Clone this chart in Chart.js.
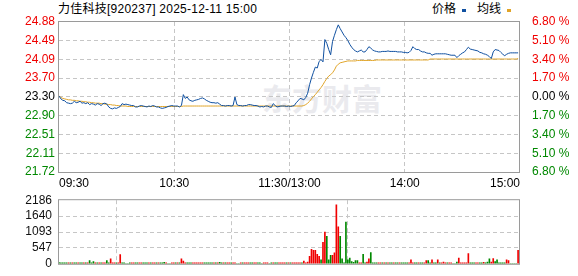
<!DOCTYPE html>
<html>
<head>
<meta charset="utf-8">
<script src="https://cdn.jsdelivr.net/npm/chart.js@4.4.1/dist/chart.umd.min.js"></script>
<style>
    body { margin: 0; background: #fff; }
    #wrap { position: relative; width: 578px; height: 276px; overflow: hidden;
            font-family: "Liberation Sans", "Noto Sans CJK SC", sans-serif; font-size: 12px; color: #000; }
    #wrap canvas { position: absolute; left: 0; }
    #priceChart { top: 0; }
    #volChart { top: 186px; }
    .txt { position: absolute; top: 2px; line-height: 14px; white-space: nowrap; }
    .mark { position: absolute; top: 9px; width: 4px; height: 3px; }
    .watermark { position: absolute; left: 262px; top: 75px; font: bold 30px "Noto Sans CJK SC", sans-serif;
                 color: #eaeaee; white-space: nowrap; }
</style>
</head>
<body>
<div id="wrap">
    <div class="watermark">东方财富</div>
    <div class="txt" style="left:58px;letter-spacing:0.25px">力佳科技[920237] 2025-12-11 15:00</div>
    <div class="txt" style="left:432px">价格</div>
    <div class="mark" style="left:462px;background:#1050a0"></div>
    <div class="txt" style="left:477px">均线</div>
    <div class="mark" style="left:507px;background:#e0a428"></div>
    <canvas id="priceChart" width="578" height="190"></canvas>
    <canvas id="volChart" width="578" height="92"></canvas>
</div>
<script>
// axis labels
const timeLabels = ['09:30', '10:30', '11:30/13:00', '14:00', '15:00'];
const priceTicks = [21.72, 22.11, 22.51, 22.90, 23.30, 23.70, 24.09, 24.49, 24.88];
const pctLabels = ['6.80 %', '5.10 %', '3.40 %', '1.70 %', '0.00 %', '1.70 %', '3.40 %', '5.10 %', '6.80 %'];
const volTicks = [0, 547, 1093, 1640, 2186];
const prevClose = 23.30;
const slots = 241; // minutes in the session

// price per minute, 09:30 .. 15:00
const price = [
    23.32, 23.26, 23.23, 23.22, 23.18, 23.17, 23.16, 23.17, 23.21, 23.18,
    23.19, 23.21, 23.17, 23.18, 23.16, 23.18, 23.14, 23.16, 23.15, 23.13,
    23.16, 23.15, 23.12, 23.16, 23.17, 23.15, 23.09, 23.06, 23.05, 23.07,
    23.06, 23.08, 23.10, 23.16, 23.14, 23.15, 23.14, 23.13, 23.12, 23.12,
    23.09, 23.09, 23.11, 23.12, 23.11, 23.10, 23.09, 23.11, 23.10, 23.12,
    23.11, 23.09, 23.09, 23.07, 23.06, 23.07, 23.08, 23.10, 23.11, 23.12,
    23.11, 23.11, 23.11, 23.09, 23.12, 23.35, 23.27, 23.30, 23.24, 23.22,
    23.21, 23.23, 23.24, 23.25, 23.27, 23.28, 23.26, 23.23, 23.21, 23.19,
    23.18, 23.18, 23.17, 23.18, 23.15, 23.12, 23.12, 23.11, 23.12, 23.12,
    23.11, 23.12, 23.30, 23.14, 23.12, 23.12, 23.11, 23.12, 23.12, 23.14,
    23.14, 23.13, 23.12, 23.12, 23.11, 23.09, 23.10, 23.09, 23.11, 23.11,
    23.09, 23.08, 23.16, 23.12, 23.09, 23.10, 23.11, 23.11, 23.11, 23.10,
    23.11, 23.10, 23.11, 23.12, 23.18, 23.22, 23.27, 23.26, 23.24, 23.29,
    23.38, 23.56, 23.70, 23.82, 23.93, 23.91, 24.05, 24.09, 24.04, 24.51,
    24.43, 24.30, 24.19, 24.47, 24.60, 24.72, 24.82, 24.74, 24.67, 24.60,
    24.55, 24.49, 24.41, 24.35, 24.30, 24.27, 24.25, 24.27, 24.29, 24.25,
    24.25, 24.30, 24.36, 24.33, 24.29, 24.27, 24.26, 24.25, 24.25, 24.26,
    24.26, 24.26, 24.27, 24.26, 24.26, 24.26, 24.26, 24.25, 24.25, 24.25,
    24.24, 24.24, 24.23, 24.24, 24.28, 24.36, 24.32, 24.30, 24.30, 24.27,
    24.25, 24.25, 24.23, 24.22, 24.22, 24.18, 24.20, 24.21, 24.21, 24.21,
    24.21, 24.21, 24.21, 24.20, 24.19, 24.18, 24.18, 24.18, 24.13, 24.17,
    24.20, 24.23, 24.25, 24.30, 24.35, 24.31, 24.30, 24.29, 24.28, 24.27,
    24.24, 24.23, 24.21, 24.20, 24.18, 24.15, 24.11, 24.25, 24.30, 24.29,
    24.28, 24.24, 24.20, 24.17, 24.20, 24.22, 24.23, 24.23, 24.23, 24.23,
    24.23
];

// average price per minute
const avgPrice = [
    23.32, 23.29, 23.27, 23.26, 23.25, 23.24, 23.24, 23.23, 23.23, 23.22,
    23.22, 23.21, 23.21, 23.20, 23.20, 23.19, 23.19, 23.18, 23.18, 23.17,
    23.17, 23.17, 23.16, 23.16, 23.15, 23.15, 23.14, 23.14, 23.13, 23.13,
    23.12, 23.12, 23.11, 23.11, 23.11, 23.11, 23.10, 23.10, 23.10, 23.10,
    23.10, 23.10, 23.10, 23.10, 23.10, 23.10, 23.10, 23.10, 23.10, 23.10,
    23.10, 23.10, 23.10, 23.10, 23.10, 23.10, 23.10, 23.10, 23.10, 23.10,
    23.10, 23.10, 23.10, 23.10, 23.10, 23.11, 23.11, 23.11, 23.11, 23.11,
    23.11, 23.11, 23.11, 23.11, 23.11, 23.11, 23.11, 23.11, 23.11, 23.11,
    23.11, 23.11, 23.11, 23.11, 23.11, 23.11, 23.11, 23.11, 23.11, 23.11,
    23.11, 23.11, 23.11, 23.11, 23.11, 23.11, 23.11, 23.11, 23.11, 23.11,
    23.11, 23.11, 23.11, 23.11, 23.11, 23.11, 23.11, 23.11, 23.11, 23.11,
    23.11, 23.11, 23.11, 23.11, 23.11, 23.11, 23.11, 23.11, 23.11, 23.11,
    23.11, 23.11, 23.11, 23.11, 23.11, 23.11, 23.11, 23.11, 23.12, 23.14,
    23.17, 23.21, 23.26, 23.31, 23.35, 23.40, 23.45, 23.50, 23.56, 23.63,
    23.69, 23.74, 23.77, 23.81, 23.87, 23.95, 23.99, 24.02, 24.03, 24.04,
    24.05, 24.06, 24.06, 24.06, 24.06, 24.06, 24.07, 24.07, 24.07, 24.07,
    24.07, 24.07, 24.07, 24.07, 24.07, 24.07, 24.08, 24.08, 24.08, 24.08,
    24.08, 24.08, 24.08, 24.08, 24.08, 24.08, 24.08, 24.08, 24.08, 24.08,
    24.08, 24.08, 24.08, 24.08, 24.08, 24.08, 24.08, 24.08, 24.08, 24.08,
    24.08, 24.08, 24.08, 24.08, 24.10, 24.10, 24.10, 24.10, 24.10, 24.10,
    24.10, 24.10, 24.10, 24.10, 24.10, 24.10, 24.10, 24.10, 24.10, 24.10,
    24.10, 24.10, 24.10, 24.10, 24.10, 24.10, 24.10, 24.10, 24.10, 24.10,
    24.10, 24.10, 24.10, 24.10, 24.10, 24.10, 24.10, 24.10, 24.10, 24.10,
    24.10, 24.10, 24.10, 24.10, 24.10, 24.10, 24.10, 24.10, 24.10, 24.10,
    24.11
];

// volume per minute (lots)
const volume = [
    40, 30, 30, 30, 30, 30, 30, 30, 30, 30,
    30, 30, 30, 30, 30, 30, 110, 30, 80, 30,
    30, 30, 30, 30, 30, 110, 30, 170, 30, 30,
    30, 30, 320, 30, 30, 0, 0, 30, 30, 30,
    30, 30, 30, 30, 30, 30, 30, 30, 30, 30,
    30, 30, 30, 30, 30, 50, 30, 0, 0, 30,
    30, 30, 30, 30, 170, 90, 30, 30, 30, 30,
    30, 30, 30, 30, 30, 30, 30, 30, 30, 30,
    30, 30, 30, 30, 50, 30, 30, 30, 30, 30,
    30, 30, 30, 0, 0, 30, 30, 30, 30, 30,
    30, 30, 30, 30, 30, 30, 0, 30, 30, 30,
    0, 30, 30, 30, 30, 30, 30, 30, 30, 30,
    30, 30, 30, 30, 30, 30, 30, 30, 90, 30,
    60, 260, 500, 467, 467, 328, 260, 140, 735, 1093,
    944, 140, 288, 288, 378, 2027, 1272, 944, 170, 30,
    1431, 140, 200, 80, 50, 110, 110, 30, 30, 328,
    30, 60, 170, 388, 30, 30, 30, 30, 30, 30,
    30, 30, 30, 30, 30, 30, 30, 30, 30, 30,
    30, 30, 30, 30, 140, 30, 30, 30, 30, 30,
    30, 30, 110, 110, 30, 140, 30, 30, 140, 30,
    30, 60, 30, 30, 30, 30, 0, 0, 60, 200,
    30, 30, 30, 30, 348, 30, 30, 30, 30, 30,
    30, 30, 50, 30, 60, 170, 60, 180, 80, 140,
    30, 30, 30, 30, 140, 110, 0, 0, 0, 0,
    467
];

// 1 = trade at higher price (red), 0 = lower (green)
const volUp = [
    0, 0, 0, 0, 0, 1, 0, 1, 0, 0,
    1, 0, 0, 1, 0, 1, 0, 0, 0, 1,
    0, 1, 0, 1, 1, 0, 0, 1, 1, 1,
    0, 1, 1, 0, 0, 0, 0, 0, 1, 1,
    0, 0, 1, 1, 0, 0, 0, 1, 0, 1,
    1, 0, 1, 0, 0, 0, 1, 0, 0, 1,
    1, 0, 1, 0, 1, 1, 1, 0, 0, 0,
    1, 1, 1, 1, 1, 1, 0, 0, 0, 0,
    0, 1, 0, 1, 0, 0, 1, 0, 1, 1,
    0, 1, 1, 0, 0, 1, 0, 1, 1, 1,
    0, 0, 1, 1, 0, 0, 0, 1, 1, 1,
    0, 0, 1, 0, 0, 1, 1, 1, 1, 0,
    1, 0, 1, 1, 1, 1, 1, 0, 1, 1,
    1, 1, 1, 1, 1, 1, 1, 0, 1, 1,
    0, 0, 0, 1, 1, 1, 1, 0, 0, 0,
    0, 0, 0, 0, 0, 0, 0, 1, 1, 0,
    0, 1, 1, 0, 0, 0, 0, 1, 1, 0,
    1, 0, 1, 0, 0, 1, 0, 0, 1, 0,
    0, 0, 0, 1, 1, 1, 0, 0, 1, 0,
    0, 1, 1, 0, 0, 1, 0, 0, 1, 0,
    1, 1, 1, 0, 1, 1, 0, 0, 0, 1,
    1, 1, 1, 1, 1, 0, 0, 0, 1, 1,
    0, 0, 1, 0, 0, 0, 1, 1, 0, 0,
    0, 0, 0, 0, 1, 1, 0, 0, 0, 0,
    1
];

const RED = '#f00000';
const GREEN = '#008800';
const GRID = '#c6c6c6';
const FRAME = '#9a9a9a';
const font = { family: '"Liberation Sans", Arial, sans-serif', size: 12 };

Chart.defaults.font.family = font.family;
Chart.defaults.font.size = 12;

// solid box around the plot area
const framePlugin = {
    id: 'frame',
    afterDraw(chart) {
        const a = chart.chartArea;
        const ctx = chart.ctx;
        ctx.save();
        ctx.strokeStyle = FRAME;
        ctx.lineWidth = 1;
        ctx.strokeRect(a.left - 0.5, a.top - 0.5, a.right - a.left, a.bottom - a.top + 1);
        ctx.restore();
    }
};

function dashedGrid(count) {
    return {
        drawTicks: false,
        lineWidth: 1,
        color: c => (c.index === 0 || c.index === count - 1) ? 'rgba(0,0,0,0)' : GRID
    };
}
const dashBorder = { display: false, dash: [4, 3] };

function timeAxis(height, showLabels) {
    return {
        type: 'linear',
        min: 0,
        max: slots,
        offset: false,
        afterBuildTicks: s => { s.ticks = timeLabels.map((t, k) => ({ value: k * slots / 4 })); },
        afterFit: s => { s.height = height; },
        ticks: {
            display: showLabels,
            autoSkip: false,
            maxRotation: 0,
            align: 'inner',
            padding: 4,
            color: '#000',
            font,
            callback: (v, i) => timeLabels[i]
        },
        grid: dashedGrid(timeLabels.length),
        border: dashBorder
    };
}

function tickColor(i) {
    if (i > 4) return RED;
    if (i < 4) return GREEN;
    return '#000';
}

function initPriceChart() {
    const ctx = document.getElementById('priceChart');
    new Chart(ctx, {
        type: 'line',
        data: {
            datasets: [
                {
                    label: '价格',
                    data: price.map((v, i) => ({ x: i, y: v })),
                    borderColor: '#1050a0',
                    borderWidth: 1,
                    pointRadius: 0,
                    tension: 0
                },
                {
                    label: '均线',
                    data: avgPrice.map((v, i) => ({ x: i, y: v })),
                    borderColor: '#e0a428',
                    borderWidth: 1,
                    pointRadius: 0,
                    tension: 0
                }
            ]
        },
        options: {
            responsive: false,
            animation: false,
            devicePixelRatio: 1,
            layout: { padding: { top: 22, left: 0, right: 0, bottom: 0 } },
            plugins: { legend: { display: false }, tooltip: { enabled: false } },
            scales: {
                x: timeAxis(18, true),
                y: {
                    position: 'left',
                    min: priceTicks[0],
                    max: priceTicks[priceTicks.length - 1],
                    afterBuildTicks: s => { s.ticks = priceTicks.map(v => ({ value: v })); },
                    afterFit: s => { s.width = 59; },
                    ticks: {
                        padding: 4,
                        font,
                        color: c => tickColor(c.index),
                        callback: v => v.toFixed(2)
                    },
                    grid: dashedGrid(priceTicks.length),
                    border: dashBorder
                },
                y1: {
                    position: 'right',
                    min: priceTicks[0],
                    max: priceTicks[priceTicks.length - 1],
                    afterBuildTicks: s => { s.ticks = priceTicks.map(v => ({ value: v })); },
                    afterFit: s => { s.width = 58; },
                    ticks: {
                        padding: 4,
                        font,
                        color: c => tickColor(c.index),
                        callback: (v, i) => pctLabels[i]
                    },
                    grid: { display: false },
                    border: { display: false }
                }
            }
        },
        plugins: [framePlugin]
    });
}

function initVolumeChart() {
    const ctx = document.getElementById('volChart');
    new Chart(ctx, {
        type: 'bar',
        data: {
            datasets: [{
                label: '成交量',
                data: volume.map((v, i) => ({ x: i, y: v })),
                backgroundColor: volUp.map(u => u ? RED : GREEN),
                barThickness: 1,
                grouped: false
            }]
        },
        options: {
            responsive: false,
            animation: false,
            devicePixelRatio: 1,
            layout: { padding: { top: 11, left: 0, right: 58, bottom: 0 } },
            plugins: { legend: { display: false }, tooltip: { enabled: false } },
            scales: {
                x: timeAxis(8, false),
                y: {
                    min: volTicks[0],
                    max: volTicks[volTicks.length - 1],
                    afterBuildTicks: s => { s.ticks = volTicks.map(v => ({ value: v })); },
                    afterFit: s => { s.width = 59; },
                    ticks: { padding: 7, font, color: '#111', callback: v => String(v) },
                    grid: dashedGrid(volTicks.length),
                    border: dashBorder
                }
            }
        },
        plugins: [framePlugin]
    });
}

initPriceChart();
initVolumeChart();
</script>
</body>
</html>
